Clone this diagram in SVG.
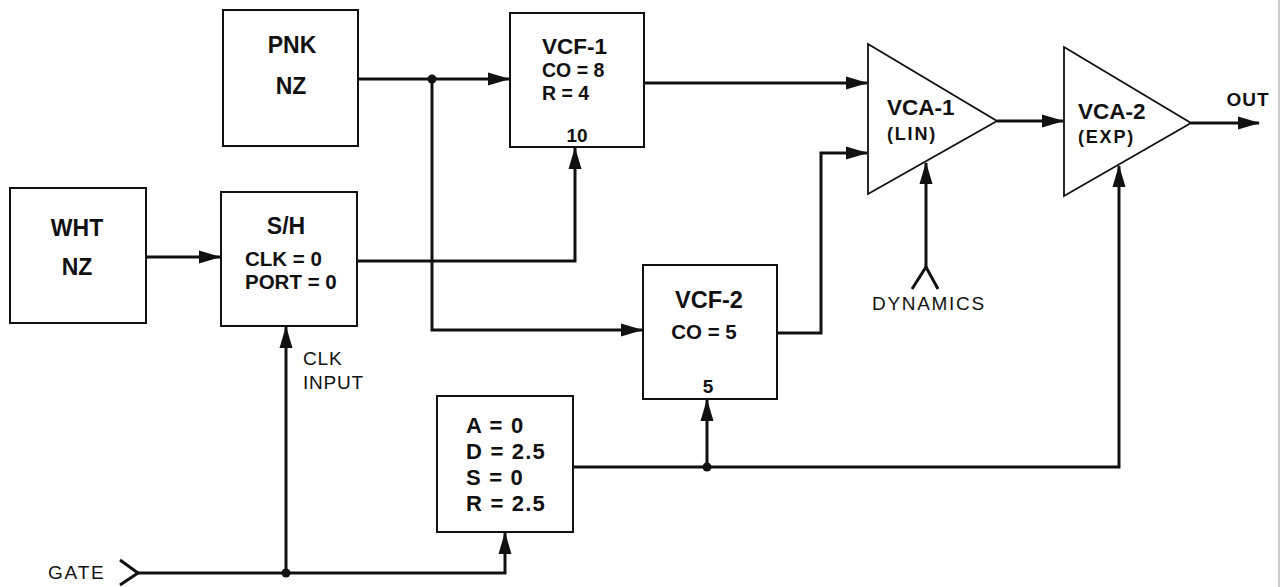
<svg xmlns="http://www.w3.org/2000/svg" width="1285" height="587" viewBox="0 0 1285 587">
<style>
.box{fill:#fff;stroke:#111;stroke-width:2}
.tri{fill:#fff;stroke:#111;stroke-width:1.8;stroke-linejoin:miter}
.ln{fill:none;stroke:#111;stroke-width:3;stroke-linejoin:miter}
.arr{marker-end:url(#ah)}
.dot{fill:#111}
.b{font-family:"Liberation Sans",Arial,sans-serif;font-weight:bold;fill:#111}
.r{font-family:"Liberation Sans",Arial,sans-serif;font-weight:normal;fill:#111}
.c{text-anchor:middle}
</style>
<defs>
<marker id="ah" markerUnits="userSpaceOnUse" markerWidth="23" markerHeight="15" refX="21" refY="7" orient="auto">
<path d="M0,0.5 L22,7 L0,13.5 z" fill="#111"/>
</marker>
</defs>
<rect width="1285" height="587" fill="#fff"/>
<line x1="1279" y1="0" x2="1279" y2="587" stroke="#bbb" stroke-width="1.5"/>

<g id="connectors">
<path class="ln arr" d="M358,79 H509"/>
<path class="ln arr" d="M432,79 V330 H642"/>
<path class="ln arr" d="M146,257 H220"/>
<path class="ln arr" d="M357,261 H575 V148"/>
<path class="ln arr" d="M644,83 H867"/>
<path class="ln arr" d="M777,333 H821 V153 H867"/>
<path class="ln arr" d="M997,121 H1063"/>
<path class="ln arr" d="M1191,123 H1259"/>
<path class="ln arr" d="M926,267 V163"/>
<path class="ln" d="M912,289 L926,267 L938,289"/>
<path class="ln arr" d="M573,467 H1119 V166"/>
<path class="ln arr" d="M707,467 V400"/>
<path class="ln" d="M120,560 L138,573 L120,585"/>
<path class="ln arr" d="M138,573 H505 V533"/>
<path class="ln arr" d="M286,573 V327"/>
<circle class="dot" cx="432" cy="79" r="4.5"/>
<circle class="dot" cx="707" cy="467" r="4.5"/>
<circle class="dot" cx="286" cy="573" r="4.5"/>
<text class="b c" x="1248" y="106" font-size="19" letter-spacing="1">OUT</text>
<text class="r" x="872" y="310" font-size="19" letter-spacing="1.7">DYNAMICS</text>
<text class="r" x="303" y="365" font-size="19" letter-spacing="0.8">CLK</text>
<text class="r" x="303" y="389" font-size="19" letter-spacing="0.8">INPUT</text>
<text class="r" x="48" y="579" font-size="19" letter-spacing="1.8">GATE</text>
</g>

<g id="pnk">
<rect class="box" x="223" y="10" width="135" height="136"/>
<text class="b c" x="292" y="53" font-size="23">PNK</text>
<text class="b c" x="291" y="94" font-size="23">NZ</text>
</g>

<g id="wht">
<rect class="box" x="10" y="188" width="136" height="135"/>
<text class="b c" x="77" y="236" font-size="23">WHT</text>
<text class="b c" x="77" y="275" font-size="23">NZ</text>
</g>

<g id="sh">
<rect class="box" x="221" y="192" width="136" height="134"/>
<text class="b c" x="286" y="234" font-size="23">S/H</text>
<text class="b" x="245" y="266" font-size="20.5">CLK = 0</text>
<text class="b" x="245" y="289" font-size="20.5">PORT = 0</text>
</g>

<g id="vcf1">
<rect class="box" x="510" y="13" width="134" height="134"/>
<text class="b" x="542" y="54" font-size="22.5">VCF-1</text>
<text class="b" x="542" y="77" font-size="19.5">CO = 8</text>
<text class="b" x="542" y="100" font-size="19.5">R = 4</text>
<text class="b c" x="577" y="142" font-size="19">10</text>
</g>

<g id="vcf2">
<rect class="box" x="643" y="265" width="134" height="134"/>
<text class="b c" x="709" y="308" font-size="23.5">VCF-2</text>
<text class="b c" x="704" y="339" font-size="20.5">CO = 5</text>
<text class="b c" x="708" y="393" font-size="19">5</text>
</g>

<g id="adsr">
<rect class="box" x="437" y="396" width="136" height="136"/>
<text class="b" x="466" y="433" font-size="22" letter-spacing="1.2">A = 0</text>
<text class="b" x="466" y="459" font-size="22" letter-spacing="1.2">D = 2.5</text>
<text class="b" x="466" y="485" font-size="22" letter-spacing="1.2">S  = 0</text>
<text class="b" x="466" y="511" font-size="22" letter-spacing="1.2">R = 2.5</text>
</g>

<g id="vca1">
<polygon class="tri" points="868,44 997,121 868,194"/>
<text class="b" x="887" y="115" font-size="22.5">VCA-1</text>
<text class="b" x="887" y="140" font-size="18" letter-spacing="1.8">(LIN)</text>
</g>

<g id="vca2">
<polygon class="tri" points="1064,47 1191,123 1064,196"/>
<text class="b" x="1078" y="119" font-size="22.5">VCA-2</text>
<text class="b" x="1078" y="143" font-size="18" letter-spacing="1.8">(EXP)</text>
</g>
</svg>
